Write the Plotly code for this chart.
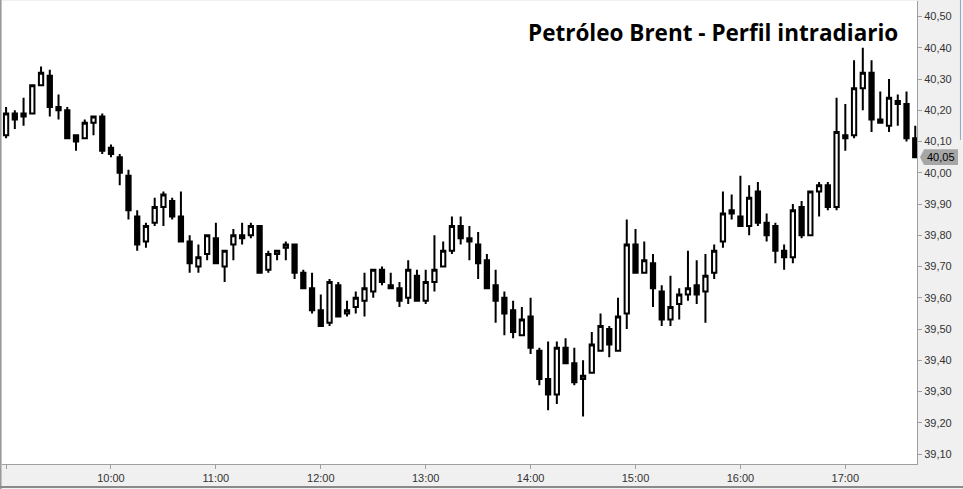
import pandas as pd
import plotly.graph_objects as go

# 5-minute candles, 09:00 - 17:40
times = pd.date_range("2020-06-10 09:00", periods=105, freq="5min")

opens = [40.12, 40.19, 40.18, 40.19, 40.28, 40.31, 40.21, 40.20, 40.12, 40.11,
         40.16, 40.18, 40.08, 40.05, 39.99, 39.86, 39.78, 39.84, 39.89, 39.91,
         39.86, 39.78, 39.70, 39.74, 39.79, 39.70, 39.77, 39.80, 39.80, 39.83,
         39.69, 39.74, 39.76, 39.77, 39.68, 39.63, 39.56, 39.52, 39.64, 39.55,
         39.57, 39.59, 39.62, 39.69, 39.64, 39.63, 39.60, 39.67, 39.59, 39.65,
         39.70, 39.75, 39.83, 39.79, 39.77, 39.72, 39.64, 39.60, 39.56, 39.48,
         39.54, 39.43, 39.34, 39.29, 39.44, 39.39, 39.34, 39.36, 39.43, 39.50,
         39.43, 39.55, 39.77, 39.68, 39.71, 39.62, 39.53, 39.58, 39.61, 39.64,
         39.62, 39.68, 39.78, 39.88, 39.86, 39.83, 39.94, 39.84, 39.83, 39.75,
         39.73, 39.89, 39.80, 39.94, 39.96, 39.89, 40.12, 40.12, 40.27, 40.32,
         40.17, 40.15, 40.23, 40.22, 40.11]
highs = [40.21, 40.20, 40.24, 40.28, 40.34, 40.33, 40.25, 40.21, 40.12, 40.17,
         40.18, 40.19, 40.09, 40.06, 40.01, 39.88, 39.84, 39.92, 39.94, 39.92,
         39.94, 39.80, 39.77, 39.80, 39.84, 39.75, 39.82, 39.84, 39.84, 39.83,
         39.75, 39.75, 39.78, 39.77, 39.69, 39.68, 39.61, 39.66, 39.65, 39.59,
         39.62, 39.68, 39.69, 39.70, 39.68, 39.65, 39.72, 39.69, 39.69, 39.80,
         39.78, 39.86, 39.86, 39.83, 39.81, 39.74, 39.69, 39.62, 39.59, 39.57,
         39.60, 39.44, 39.46, 39.46, 39.47, 39.44, 39.40, 39.49, 39.55, 39.51,
         39.60, 39.85, 39.82, 39.78, 39.74, 39.64, 39.67, 39.63, 39.75, 39.72,
         39.74, 39.77, 39.94, 39.93, 39.99, 39.96, 39.97, 39.87, 39.84, 39.77,
         39.90, 39.91, 39.94, 39.97, 39.97, 40.24, 40.22, 40.36, 40.40, 40.36,
         40.26, 40.30, 40.25, 40.26, 40.15]
lows = [40.11, 40.14, 40.15, 40.19, 40.28, 40.18, 40.17, 40.11, 40.07, 40.11,
        40.12, 40.06, 40.05, 39.96, 39.85, 39.75, 39.76, 39.83, 39.83, 39.85,
        39.78, 39.68, 39.68, 39.72, 39.71, 39.65, 39.72, 39.77, 39.79, 39.68,
        39.68, 39.72, 39.72, 39.66, 39.63, 39.55, 39.51, 39.51, 39.54, 39.54,
        39.55, 39.54, 39.60, 39.64, 39.63, 39.57, 39.58, 39.59, 39.58, 39.62,
        39.70, 39.74, 39.77, 39.72, 39.66, 39.63, 39.52, 39.48, 39.47, 39.48,
        39.42, 39.32, 39.24, 39.26, 39.39, 39.32, 39.22, 39.36, 39.43, 39.41,
        39.43, 39.50, 39.68, 39.68, 39.57, 39.51, 39.51, 39.53, 39.59, 39.58,
        39.52, 39.66, 39.76, 39.85, 39.83, 39.80, 39.83, 39.78, 39.71, 39.69,
        39.71, 39.79, 39.80, 39.86, 39.88, 39.88, 40.07, 40.11, 40.20, 40.13,
        40.16, 40.13, 40.15, 40.10, 40.05]
closes = [40.19, 40.17, 40.19, 40.28, 40.32, 40.21, 40.20, 40.11, 40.10, 40.16,
          40.18, 40.07, 40.06, 40.00, 39.88, 39.77, 39.83, 39.89, 39.93, 39.86,
          39.78, 39.71, 39.73, 39.80, 39.71, 39.75, 39.80, 39.79, 39.83, 39.68,
          39.74, 39.75, 39.77, 39.68, 39.63, 39.56, 39.51, 39.65, 39.54, 39.56,
          39.60, 39.63, 39.69, 39.65, 39.63, 39.59, 39.69, 39.59, 39.65, 39.69,
          39.75, 39.83, 39.79, 39.78, 39.71, 39.63, 39.59, 39.55, 39.49, 39.53,
          39.44, 39.34, 39.29, 39.44, 39.39, 39.33, 39.35, 39.45, 39.51, 39.45,
          39.54, 39.77, 39.68, 39.72, 39.63, 39.53, 39.57, 39.61, 39.63, 39.61,
          39.67, 39.75, 39.87, 39.87, 39.83, 39.92, 39.84, 39.80, 39.75, 39.73,
          39.88, 39.80, 39.94, 39.96, 39.89, 40.13, 40.11, 40.27, 40.32, 40.17,
          40.16, 40.24, 40.22, 40.11, 40.05]

title_text = "Petróleo Brent - Perfil intradiario"
y_ticks = [39.10, 39.20, 39.30, 39.40, 39.50, 39.60, 39.70, 39.80, 39.90,
           40.00, 40.10, 40.20, 40.30, 40.40, 40.50]

fig = go.Figure(go.Candlestick(
    x=times, open=opens, high=highs, low=lows, close=closes,
    increasing=dict(line=dict(color="black", width=2), fillcolor="white"),
    decreasing=dict(line=dict(color="black", width=2), fillcolor="black"),
    whiskerwidth=0, showlegend=False, hoverinfo="skip",
))

last = closes[-1]
pad = 8 / 312.5
fig.add_shape(type="path", xref="paper", yref="y",
              path=(f"M 1.0033 {last} L 1.0077 {last + pad} L 1.0448 {last + pad} "
                    f"L 1.0448 {last - pad} L 1.0077 {last - pad} Z"),
              fillcolor="#a6a6a6", line=dict(width=0), layer="above")
fig.add_annotation(xref="paper", yref="y", x=1.0262, y=last,
                   text=f"{last:.2f}".replace(".", ","), showarrow=False,
                   font=dict(family="Liberation Sans, Arial", size=11, color="black"),
                   xanchor="center", yanchor="middle")
fig.add_annotation(xref="paper", yref="paper", x=0.9815, y=0.931,
                   text=f"<b>{title_text}</b>", showarrow=False,
                   font=dict(family="Open Sans", size=22.5, color="black"),
                   xanchor="right", yanchor="middle")
# frame lines of the window
fig.add_shape(type="line", xref="paper", yref="paper", x0=-0.0016, x1=-0.0016,
              y0=-0.06, y1=1.01, line=dict(color="#9a9a9a", width=2))
fig.add_shape(type="line", xref="paper", yref="paper", x0=-0.01, x1=1.06,
              y0=-0.0497, y1=-0.0497, line=dict(color="#8a8a8a", width=2))
fig.add_shape(type="line", xref="paper", yref="paper", x0=1.0475, x1=1.0475,
              y0=0.70, y1=1.01, line=dict(color="#8fa6c0", width=1))

fig.update_layout(
    width=963, height=489,
    margin=dict(l=2, r=46, t=1, b=25),
    paper_bgcolor="#f0f0f0", plot_bgcolor="white",
    separators=",.",
    boxgap=0.3,
    font=dict(family="Liberation Sans, Arial", size=11, color="#333333"),
    xaxis=dict(
        rangeslider=dict(visible=False),
        range=["2020-06-10 08:57:40", "2020-06-10 17:41:00"],
        tickformat="%H:%M", dtick=3600000, tick0="2020-06-10 10:00",
        ticks="outside", ticklen=4, tickcolor="#a0a0a0",
        showgrid=False, zeroline=False,
        showline=True, linecolor="#a0a0a0", linewidth=1,
        tickfont=dict(size=11, color="#333333"),
    ),
    yaxis=dict(
        side="right", range=[39.068, 40.5496],
        tickvals=y_ticks, tickformat=".2f",
        ticks="outside", ticklen=4, tickcolor="#a0a0a0",
        showgrid=False, zeroline=False,
        showline=True, linecolor="#a0a0a0", linewidth=1,
        tickfont=dict(size=11, color="#333333"),
    ),
)

fig.write_html("out.html")
